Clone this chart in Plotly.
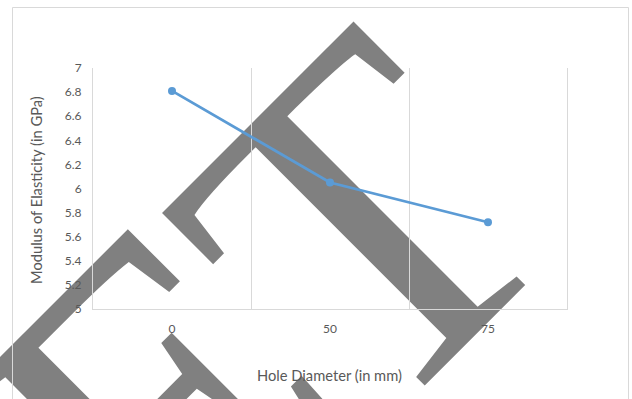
import plotly.graph_objects as go

# Data
hole_diameter = ["0", "50", "75"]          # mm
modulus_gpa = [6.81, 6.05, 5.72]           # GPa
y_tick_vals = [5.0, 5.2, 5.4, 5.6, 5.8, 6.0, 6.2, 6.4, 6.6, 6.8, 7.0]
y_tick_text = ["5", "5.2", "5.4", "5.6", "5.8", "6", "6.2", "6.4", "6.6", "6.8", "7"]
watermark_letters = ["E", "T"]

W, H = 632, 399
ML, MR, MT, MB = 93, 65, 68, 90
PW, PH = W - ML - MR, H - MT - MB


def px_x(px):
    return (px - ML) / PW


def px_y(py):
    return (H - MB - py) / PH


x_pos = list(range(len(hole_diameter)))

fig = go.Figure()
fig.add_trace(go.Scatter(
    x=x_pos,
    y=modulus_gpa,
    mode="lines+markers",
    line=dict(color="#5B9BD5", width=2.75),
    marker=dict(color="#5B9BD5", size=8),
    showlegend=False,
))

grey_line = "#D9D9D9"
tick_font = dict(family="Lato, 'Open Sans', sans-serif", size=12, color="#595959")
title_font = dict(family="Lato, 'Open Sans', sans-serif", size=14.7, color="#595959")

fig.update_layout(
    width=W, height=H,
    margin=dict(l=ML, r=MR, t=MT, b=MB, pad=0),
    paper_bgcolor="white",
    plot_bgcolor="white",
    xaxis=dict(
        range=[-0.5, len(hole_diameter) - 0.5],
        tickvals=x_pos,
        ticktext=hole_diameter,
        showgrid=False,
        zeroline=False,
        showline=True,
        linecolor=grey_line,
        linewidth=1,
        ticks="",
        tickfont=tick_font,
        ticklabelstandoff=9,
        minor=dict(tickvals=[0.5, 1.5], showgrid=True, gridcolor=grey_line,
                   gridwidth=1, ticks=""),
    ),
    yaxis=dict(
        range=[5, 7],
        tickvals=y_tick_vals,
        ticktext=y_tick_text,
        showgrid=False,
        zeroline=False,
        showline=True,
        mirror=True,
        linecolor=grey_line,
        linewidth=1,
        ticks="",
        tickfont=tick_font,
        ticklabelstandoff=8,
    ),
)

# Axis titles
fig.add_annotation(
    text="Hole Diameter (in mm)", xref="paper", yref="paper",
    x=px_x(329), y=px_y(375), xanchor="center", yanchor="middle",
    showarrow=False, font=title_font,
)
fig.add_annotation(
    text="Modulus of Elasticity (in GPa)", xref="paper", yref="paper",
    x=px_x(36), y=px_y(190), xanchor="center", yanchor="middle",
    textangle=-90, showarrow=False, font=title_font,
)

# Rotated watermark letters, drawn behind everything else
letter_centres = [(126, 370), (327, 187)]   # pixel centres of each letter box
for letter, (lx, ly) in zip(watermark_letters, letter_centres):
    cx, cy = px_x(lx), px_y(ly)
    fig.add_shape(
        type="rect", xref="paper", yref="paper",
        x0=cx - 0.002, x1=cx + 0.002, y0=cy - 0.002, y1=cy + 0.002,
        line=dict(width=0), fillcolor="rgba(0,0,0,0)", layer="below",
        label=dict(text=letter, textangle=-45, textposition="middle center",
                   font=dict(family="Liberation Serif", size=470, color="#808080")),
    )

# Outer chart frame
fig.add_shape(
    type="rect", xref="paper", yref="paper",
    x0=px_x(12.5), x1=px_x(628.5), y0=px_y(420), y1=px_y(7.5),
    line=dict(color=grey_line, width=1), fillcolor="rgba(0,0,0,0)", layer="below",
)

fig.write_html("out.html")
